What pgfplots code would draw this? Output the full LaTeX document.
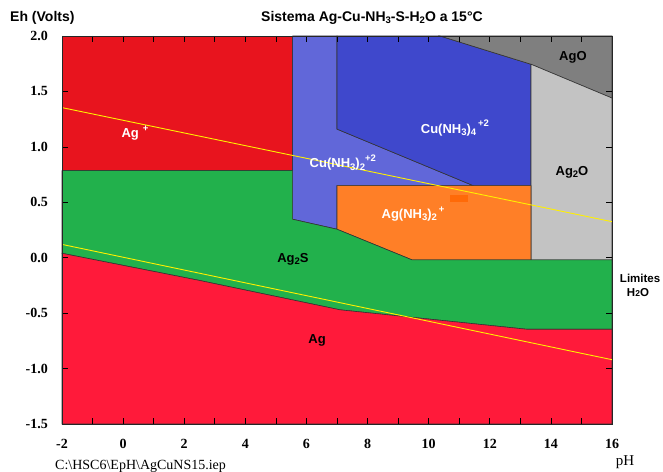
\documentclass[border=0pt]{standalone}
\usepackage{fontspec}
\setmainfont{Liberation Sans}
\newfontfamily\serif{Liberation Serif}
\usepackage{pgfplots}
\pgfplotsset{compat=1.18}

\definecolor{agplus}{RGB}{232,20,30}
\definecolor{agmet}{RGB}{255,26,58}
\definecolor{agsulf}{RGB}{34,177,76}
\definecolor{cudi}{RGB}{97,103,217}
\definecolor{cutetra}{RGB}{63,72,204}
\definecolor{agamm}{RGB}{255,127,39}
\definecolor{agamm2}{RGB}{255,106,8}
\definecolor{agtwoo}{RGB}{195,195,195}
\definecolor{ago}{RGB}{127,127,127}
\definecolor{h2oline}{RGB}{255,240,0}

% small indices and charges as printed by the diagram program
\newcommand\dn[1]{\raisebox{-0.3ex}{\fontsize{9.5}{9.5}\selectfont #1}}
\newcommand\up[1]{\raisebox{0.9ex}{\fontsize{9.5}{9.5}\selectfont #1}}

\tikzset{lab/.style={font=\bfseries\fontsize{13}{13}\selectfont, inner sep=0pt}}

\begin{document}
\begin{tikzpicture}
\begin{axis}[
  scale only axis, width=550pt, height=388pt,
  xmin=-2, xmax=16, ymin=-1.5, ymax=2,
  xtick={-2,0,2,4,6,8,10,12,14,16},
  minor xtick={-1,1,3,5,7,9,11,13,15},
  ytick={-1.5,-1,-0.5,0,0.5,1,1.5,2},
  tick align=inside, major tick length=6pt, minor tick length=6pt,
  tick style={black, line width=0.7pt},
  axis line style={black!85, line width=0.9pt},
  axis on top, clip=false,
  /pgf/number format/assume math mode=true,
  ticklabel style={font=\serif\bfseries\fontsize{14}{14}\selectfont},
  yticklabel style={/pgf/number format/fixed, /pgf/number format/fixed zerofill,
    /pgf/number format/precision=1, anchor=east, inner sep=0pt, xshift=-14pt},
  xticklabel style={anchor=north, inner sep=0pt, yshift=-15pt},
]
% stability fields
\addplot[fill=agplus, draw=black!80, line width=0.6pt] coordinates {
  (-2,0.785) (5.55,0.785) (5.55,2) (-2,2)} -- cycle;
\addplot[fill=cudi, draw=black!80, line width=0.6pt] coordinates {
  (5.55,2) (7.0,2) (7.0,1.16) (11.46,0.65) (7.0,0.65) (7.0,0.257) (5.55,0.347)} -- cycle;
\addplot[fill=cutetra, draw=black!80, line width=0.6pt] coordinates {
  (7.0,2) (10.37,2) (13.35,1.745) (13.35,0.65) (11.46,0.65) (7.0,1.16)} -- cycle;
\addplot[fill=ago, draw=black!80, line width=0.6pt] coordinates {
  (10.37,2) (16,2) (16,1.44) (13.35,1.745)} -- cycle;
\addplot[fill=agtwoo, draw=black!80, line width=0.6pt] coordinates {
  (13.35,1.745) (16,1.44) (16,-0.02) (13.35,-0.02)} -- cycle;
\addplot[fill=agamm, draw=black!80, line width=0.6pt] coordinates {
  (7.0,0.65) (13.35,0.65) (13.35,-0.02) (9.46,-0.02) (7.0,0.257)} -- cycle;
\addplot[fill=agamm2, draw=none] coordinates {
  (10.7,0.565) (11.3,0.565) (11.3,0.5) (10.7,0.5)} -- cycle;
\addplot[fill=agsulf, draw=black!80, line width=0.6pt] coordinates {
  (-2,0.785) (5.55,0.785) (5.55,0.347) (7.0,0.257) (9.46,-0.02) (16,-0.02)
  (16,-0.645) (13.2,-0.645) (7.1,-0.47) (2.5,-0.205) (-2,0.04)} -- cycle;
\addplot[fill=agmet, draw=black!80, line width=0.6pt] coordinates {
  (-2,0.04) (2.5,-0.205) (7.1,-0.47) (13.2,-0.645) (16,-0.645) (16,-1.5) (-2,-1.5)} -- cycle;

% stability limits of water
\addplot[h2oline, line width=0.9pt] coordinates {(-2,1.354) (16,0.325)};
\addplot[h2oline, line width=0.9pt] coordinates {(-2,0.12) (16,-0.92)};

% field names
\node[lab, text=white] at (axis cs:0.39,1.125) {Ag\hspace{4pt}\up{+}};
\node[lab, text=white] at (axis cs:10.86,1.17) {Cu(NH\dn{3})\dn{4}\hspace{2pt}\up{+2}};
\node[lab, text=white] at (axis cs:7.19,0.855) {Cu(NH\dn{3})\dn{2}\up{+2}};
\node[lab, text=black] at (axis cs:14.72,1.81) {AgO};
\node[lab, text=black] at (axis cs:14.69,0.773) {Ag\dn{2}O};
\node[lab, text=white] at (axis cs:9.49,0.394) {Ag(NH\dn{3})\dn{2}\hspace{2pt}\up{+}};
\node[lab, text=black] at (axis cs:5.56,-0.012) {Ag\dn{2}S};
\node[lab, text=black] at (axis cs:6.35,-0.742) {Ag};
\node[lab, font=\bfseries\fontsize{11.5}{11.5}\selectfont] at (axis cs:16.92,-0.183) {Limites};
\node[lab, font=\bfseries\fontsize{11.5}{11.5}\selectfont] at (axis cs:16.85,-0.318)
  {H{\fontsize{8.5}{8.5}\selectfont 2}O};

% titles
\node[lab, font=\bfseries\fontsize{14}{14}\selectfont] at (rel axis cs:0.5636,1.0464)
  {Sistema Ag-Cu-NH\dn{3}-S-H\dn{2}O a 15°C};
\node[anchor=west, inner sep=0pt, font=\bfseries\fontsize{14}{14}\selectfont]
  at (rel axis cs:-0.0945,1.0464) {Eh (Volts)};
\node[font=\serif\fontsize{15}{15}\selectfont] at (rel axis cs:1.0236,-0.0979) {pH};
\node[anchor=west, inner sep=0pt, font=\serif\fontsize{14}{14}\selectfont]
  at (rel axis cs:-0.0127,-0.108) {C:\textbackslash HSC6\textbackslash EpH\textbackslash AgCuNS15.iep};

\coordinate (bbsw) at (rel axis cs:-0.11273,-0.12371);
\coordinate (bbne) at (rel axis cs:1.09273,1.09278);
\end{axis}
\pgfresetboundingbox
\useasboundingbox (bbsw) rectangle (bbne);
\end{tikzpicture}
\end{document}
